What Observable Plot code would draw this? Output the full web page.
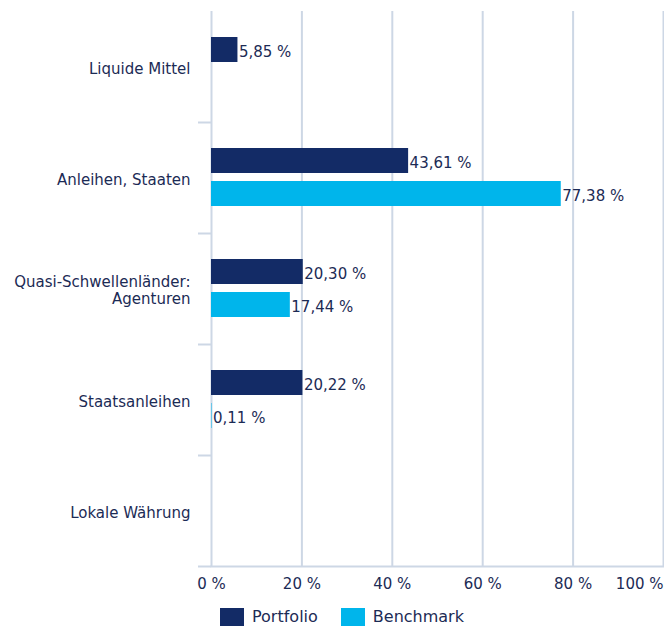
<!DOCTYPE html>
<html>
<head>
<meta charset="utf-8">
<script src="https://cdn.jsdelivr.net/npm/d3@7"></script>
<script src="https://cdn.jsdelivr.net/npm/@observablehq/plot@0.6"></script>
<style>
  html, body { margin: 0; padding: 0; background: #fff; }
  #chart { width: 664px; height: 630px; position: relative; overflow: hidden; }
  #legend { position: absolute; left: 220px; top: 600px; }
  #legend span { margin-right: 23px; }
</style>
</head>
<body>
<div id="chart"></div>
<script>
const categories = ["Liquide Mittel", "Anleihen, Staaten", "Quasi-Schwellenländer:\nAgenturen", "Staatsanleihen", "Lokale Währung"];
const seriesNames = ["Portfolio", "Benchmark"];
const portfolio = [5.85, 43.61, 20.30, 20.22, null];
const benchmark = [null, 77.38, 17.44, 0.11, null];
const xTicks = [0, 20, 40, 60, 80, 100];
const colors = ["#132b66", "#00b5eb"];

const textColor = "#1c2b55";
const gridColor = "#cdd7e5";
const font = "'DejaVu Sans', Verdana, sans-serif";

const W = 664, H = 600, mTop = 11, mBottom = 34, mLeft = 211, mRight = 1;
const band = (H - mTop - mBottom) / categories.length;

const rows = [];
categories.forEach((c, i) => {
  if (portfolio[i] != null) rows.push({category: c, series: "Portfolio", value: portfolio[i]});
  if (benchmark[i] != null) rows.push({category: c, series: "Benchmark", value: benchmark[i]});
});
const pRows = rows.filter(d => d.series === "Portfolio");
const bRows = rows.filter(d => d.series === "Benchmark");
const fmt = v => v.toFixed(2).replace(".", ",") + " %";

const chart = Plot.plot({
  width: W, height: H,
  marginTop: mTop, marginBottom: mBottom, marginLeft: mLeft, marginRight: mRight,
  style: {fontFamily: font, fontSize: "15px", color: textColor, background: "#fff", overflow: "visible"},
  x: {domain: [0, 100], label: null},
  y: {domain: categories, type: "band", padding: 0, label: null},
  marks: [
    Plot.gridX(xTicks, {stroke: gridColor, strokeOpacity: 1, strokeWidth: 2}),
    Plot.frame({anchor: "bottom", stroke: gridColor, strokeWidth: 2}),
    Plot.axisY({tickSize: 13, text: null, label: null, stroke: gridColor, strokeWidth: 2, dy: band / 2}),
    Plot.axisY({tickSize: 0, tickPadding: 21, fill: textColor, fontSize: 15, lineHeight: 1.15, label: null, dy: 1}),
    Plot.axisX(xTicks.slice(0, -1), {tickSize: 0, tickPadding: 12, fill: textColor, fontSize: 15, tickFormat: d => d + " %", label: null}),
    Plot.axisX(xTicks.slice(-1), {tickSize: 0, tickPadding: 12, fill: textColor, fontSize: 15, tickFormat: d => d + " %", label: null, textAnchor: "end"}),
    Plot.barX(pRows, {x: "value", y: "category", fill: colors[0], insetTop: 26, insetBottom: band - 51}),
    Plot.barX(bRows, {x: "value", y: "category", fill: colors[1], insetTop: 59, insetBottom: band - 84}),
    Plot.text(pRows, {x: "value", y: "category", text: d => fmt(d.value), textAnchor: "start", dx: 1, dy: -band / 2 + 38.5 + 2, fill: textColor, fontSize: 15}),
    Plot.text(bRows, {x: "value", y: "category", text: d => fmt(d.value), textAnchor: "start", dx: 1, dy: -band / 2 + 71.5 + 2, fill: textColor, fontSize: 15})
  ]
});

const legend = Plot.legend({
  color: {type: "ordinal", domain: seriesNames, range: colors},
  legend: "swatches",
  swatchWidth: 24, swatchHeight: 18,
  style: {fontFamily: font, fontSize: "16px", color: textColor}
});
legend.id = "legend";

const root = document.getElementById("chart");
root.appendChild(chart);
root.appendChild(legend);
</script>
</body>
</html>
